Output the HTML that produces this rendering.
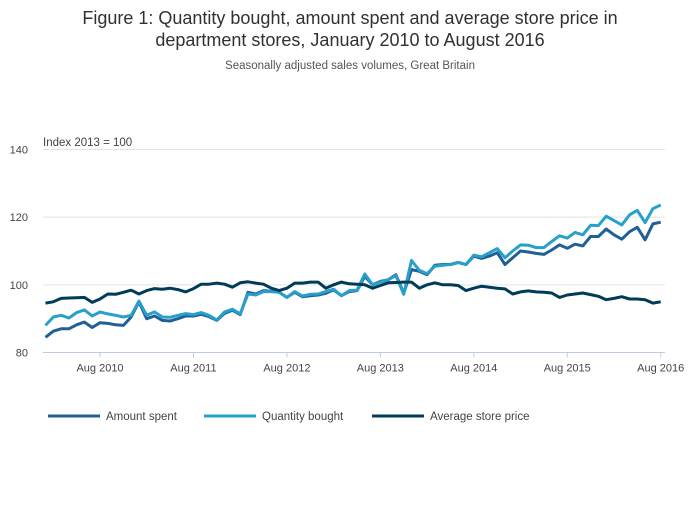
<!DOCTYPE html>
<html><head><meta charset="utf-8"><style>
body{margin:0;background:#fff;font-family:"Liberation Sans",sans-serif;}
svg text{font-family:"Liberation Sans",sans-serif;}
</style></head><body>
<svg id="chart" width="700" height="502" xmlns="http://www.w3.org/2000/svg">
<text x="350" y="24" text-anchor="middle" font-size="18" fill="#323132">Figure 1: Quantity bought, amount spent and average store price in</text>
<text x="350" y="46" text-anchor="middle" font-size="18" fill="#323132">department stores, January 2010 to August 2016</text>
<text x="350" y="69" text-anchor="middle" font-size="11.5" fill="#555">Seasonally adjusted sales volumes, Great Britain</text>
<text x="43" y="146" font-size="11.5" fill="#444">Index 2013 = 100</text>
<g id="grid"></g><g id="xaxis"></g><g id="series"></g><g id="legend"></g>
</svg>
<script>
const yTicks=[80,100,120,140];
const xTickLabels=["Aug 2010","Aug 2011","Aug 2012","Aug 2013","Aug 2014","Aug 2015","Aug 2016"];
const xTickMonths=[7,19,31,43,55,67,79];
const seriesNames=["Amount spent","Quantity bought","Average store price"];
const amountSpent=[84.5,86.3,87,87,88.2,89,87.4,88.8,88.6,88.2,88,90.5,95,90,90.8,89.5,89.3,90,90.8,90.8,91.3,90.6,89.5,91.6,92.5,91.2,97.8,97.3,98.3,98.1,97.8,96.3,97.8,96.5,96.8,97,97.5,98.5,96.8,98,98.3,102.5,100,101,101.5,103,97.5,104.5,104,103,105.8,106,106,106.6,106,108.5,107.8,108.5,109.5,106,108,110,109.7,109.3,109,110.3,111.8,110.8,112,111.5,114.3,114.3,116.5,114.8,113.5,115.7,117,113.3,118,118.5];
const quantityBought=[88,90.5,91,90.2,91.8,92.6,90.8,92,91.4,91,90.5,91,95.2,91,92,90.5,90.4,91,91.5,91.2,91.8,91,89.6,92,92.8,91.4,97.3,97,98,98,97.8,96.3,98,96.7,97.2,97.3,98,98.7,96.8,98.3,98.4,103.2,100,100.8,101.5,102.7,97.2,107.2,104.3,103.3,105.5,105.8,106,106.6,106,108.8,108.3,109.5,110.7,108,110,111.8,111.7,111,111,112.8,114.5,113.8,115.5,114.8,117.6,117.5,120.3,119,117.7,120.7,122,118.4,122.5,123.6];
const averagePrice=[94.6,95,96,96.1,96.2,96.3,94.8,95.8,97.3,97.2,97.8,98.4,97.3,98.3,98.9,98.7,99,98.6,97.9,98.9,100.2,100.2,100.5,100.2,99.3,100.6,100.9,100.5,100.2,99,98.3,99,100.5,100.5,100.8,100.8,99,100,100.8,100.3,100.2,100,99,99.8,100.6,100.7,100.8,100.8,99,100,100.6,100,100,99.8,98.3,99,99.6,99.3,99,98.8,97.3,97.9,98.2,97.9,97.8,97.6,96.3,97,97.3,97.6,97.1,96.6,95.6,96,96.5,95.8,95.8,95.6,94.6,95];
const NS="http://www.w3.org/2000/svg";
const colors=["#206095","#27a0cc","#003c57"];
const X0=45.5,X1=660.7,Y0=352.5,Y1=149.5;
function xs(m){return X0+(X1-X0)*m/79;}
function ys(v){return Y0-(v-80)*(Y0-Y1)/60;}
function mk(tag,attrs,parent){const e=document.createElementNS(NS,tag);for(const k in attrs)e.setAttribute(k,attrs[k]);parent.appendChild(e);return e;}
const grid=document.getElementById('grid');
yTicks.forEach(t=>{
  if(t>80){const l=mk('line',{x1:43,x2:665,y1:ys(t),y2:ys(t),stroke:'#e2e2e3','stroke-width':1},grid);
  
  }
  const tx=mk('text',{x:28,y:ys(t)+4,'text-anchor':'end','font-size':11,fill:'#444'},grid);
  tx.textContent=t;
  
  
});
const xa=document.getElementById('xaxis');
const axl=mk('line',{x1:43,x2:665,y1:Y0,y2:Y0,stroke:'#bfcbe0','stroke-width':1},xa);


xTickMonths.forEach((m,i)=>{
  const tk=mk('line',{x1:xs(m),x2:xs(m),y1:Y0,y2:Y0+5,stroke:'#bfcbe0'},xa);
  
  
  const tx=mk('text',{x:xs(m),y:Y0+19,'text-anchor':'middle','font-size':11,fill:'#444'},xa);
  tx.textContent=xTickLabels[i];
  
  
});
const sg=document.getElementById('series');
[amountSpent,quantityBought,averagePrice].forEach((arr,si)=>{
  const d=arr.map((v,i)=>(i?'L':'M')+xs(i).toFixed(1)+','+ys(v).toFixed(1)).join('');
  const p=mk('path',{d:d,fill:'none',stroke:colors[si],'stroke-width':3,'stroke-linejoin':'round'},sg);
  
  
});
const lg=document.getElementById('legend');
const lx=[48,204,372];
seriesNames.forEach((n,i)=>{
  const g=mk('g',{},lg);
  
  
  mk('line',{x1:lx[i],x2:lx[i]+52,y1:416,y2:416,stroke:colors[i],'stroke-width':3},g);
  const t=mk('text',{x:lx[i]+58,y:420,'font-size':11.5,fill:'#444'},g);
  t.textContent=n;
});
</script>
</body></html>
